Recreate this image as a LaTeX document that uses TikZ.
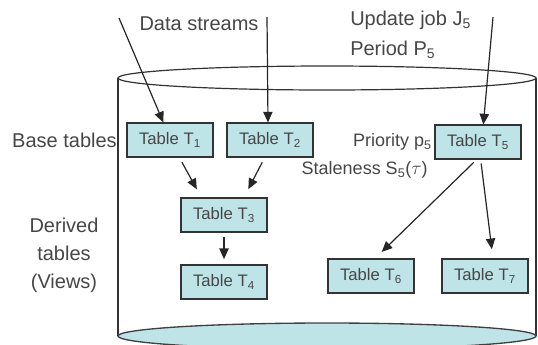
\documentclass[tikz,border=0pt]{standalone}
\usepackage{fontspec}
\setmainfont{Liberation Sans}
\usetikzlibrary{arrows.meta,positioning}
\definecolor{tblfill}{RGB}{190,228,232}
\definecolor{txtgray}{RGB}{70,70,70}

\begin{document}
\begin{tikzpicture}[x=0.75pt,y=-0.75pt,
    tbl/.style={draw=black!80,line width=1.3pt,fill=tblfill,text=txtgray,
        minimum width=64pt,minimum height=25pt,inner sep=0pt,font=\fontsize{12.5}{14}\selectfont},
    lbl/.style={text=txtgray,inner sep=0pt,font=\fontsize{15}{17}\selectfont},
    flow/.style={-{Triangle[length=8pt,width=7pt]},line width=0.9pt,black!85}]
    \useasboundingbox (0,0) rectangle (538,344);
    \clip (0,0) rectangle (538,344);

    % Cylinder (database)
    \draw[line width=0.9pt,black!80] (118,78) -- (118,336);
    \draw[line width=0.9pt,black!80] (536,78) -- (536,336);
    \draw[line width=0.9pt,black!80] (327,78) ellipse [x radius=209,y radius=12];
    \draw[line width=1pt,black!75,fill=tblfill] (327,336) ellipse [x radius=209,y radius=13];

    % Base tables
    \node[tbl] (t1) at (170,140) {Table T\textsubscript{1}};
    \node[tbl] (t2) at (270,140) {Table T\textsubscript{2}};
    \node[tbl] (t5) at (478,142) {Table T\textsubscript{5}};

    % Derived tables
    \node[tbl] (t3) at (224,215) {Table T\textsubscript{3}};
    \node[tbl] (t4) at (224,282) {Table T\textsubscript{4}};
    \node[tbl] (t6) at (371,276) {Table T\textsubscript{6}};
    \node[tbl] (t7) at (485,276) {Table T\textsubscript{7}};

    % Labels
    \node[lbl] (streams) at (199,24) {Data streams};
    \node[lbl,anchor=west] (job) at (350,20) {Update job J\textsubscript{5}};
    \node[lbl,anchor=west] (period) at (350,50) {Period P\textsubscript{5}};
    \node[lbl,anchor=east] (base) at (117,140) {Base tables};
    \node[lbl,align=center,font=\fontsize{15}{21}\selectfont] (derived) at (64,255) {Derived\\tables\\(Views)};
    \node[lbl,anchor=east,font=\fontsize{13.5}{15}\selectfont] (prio) at (432,142) {Priority p\textsubscript{5}};
    \node[lbl,anchor=east,font=\fontsize{13.5}{15}\selectfont] (stale) at (428,170) {Staleness S\textsubscript{5}($\tau$)};

    % Incoming streams and update job
    \coordinate (s1) at (119,18);
    \coordinate (s2) at (267,17);
    \coordinate (u5) at (493,17);
    \draw[flow] (s1) -- ([xshift=-5pt]t1.north);
    \draw[flow] (s2) -- ([xshift=-1.5pt]t2.north);
    \draw[flow] (u5) -- ([xshift=4pt]t5.north);

    % Derivations
    \draw[flow,shorten <=4pt,shorten >=7pt] ([xshift=7pt]t1.south) -- ([xshift=-17pt]t3.north);
    \draw[flow,shorten <=4pt,shorten >=7pt] ([xshift=-4pt]t2.south) -- ([xshift=15pt]t3.north);
    \draw[flow,shorten <=3pt,shorten >=4pt] (t3) -- (t4);
    \draw[flow,shorten <=3pt,shorten >=7pt] ([xshift=-1pt]t5.south) -- ([xshift=3pt]t6.north);
    \draw[flow,shorten <=3pt,shorten >=7pt] ([xshift=2pt]t5.south) -- ([xshift=6pt]t7.north);
\end{tikzpicture}
\end{document}
